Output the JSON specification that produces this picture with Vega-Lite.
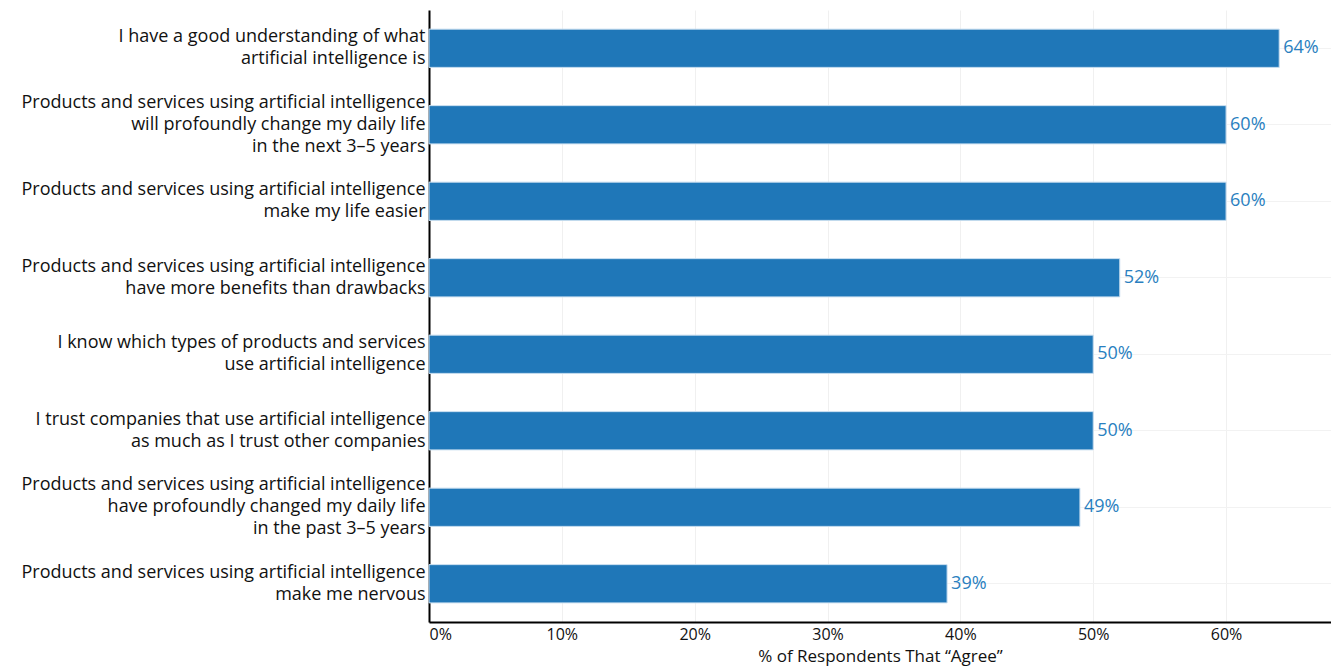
{
  "$schema": "https://vega.github.io/schema/vega-lite/v6.json",
  "autosize": "none",
  "width": 902,
  "height": 612,
  "padding": {"left": 429, "top": 10, "right": 0, "bottom": 48},
  "background": "white",
  "data": {"values": [
    {"statement": "I have a good understanding of what|artificial intelligence is", "agree": 0.64},
    {"statement": "Products and services using artificial intelligence|will profoundly change my daily life|in the next 3–5 years", "agree": 0.60},
    {"statement": "Products and services using artificial intelligence|make my life easier", "agree": 0.60},
    {"statement": "Products and services using artificial intelligence|have more benefits than drawbacks", "agree": 0.52},
    {"statement": "I know which types of products and services|use artificial intelligence", "agree": 0.50},
    {"statement": "I trust companies that use artificial intelligence|as much as I trust other companies", "agree": 0.50},
    {"statement": "Products and services using artificial intelligence|have profoundly changed my daily life|in the past 3–5 years", "agree": 0.49},
    {"statement": "Products and services using artificial intelligence|make me nervous", "agree": 0.39}
  ]},
  "config": {
    "font": "Open Sans",
    "view": {"stroke": null}
  },
  "encoding": {
    "y": {
      "field": "statement", "type": "nominal", "sort": null,
      "scale": {"paddingInner": 0.5, "paddingOuter": 0.25},
      "axis": {
        "title": null, "ticks": false, "domainColor": "#000000", "domainWidth": 2,
        "labelExpr": "split(datum.label, '|')", "labelFontSize": 18, "labelLineHeight": 22,
        "labelBaseline": "middle",
        "labelOffset": {"condition": {"test": "length(split(datum.value, '|')) == 3", "value": -22}, "value": -11},
        "labelColor": "#111111", "labelPadding": 4, "labelLimit": 500,
        "grid": true, "gridColor": "#f2f2f2", "gridWidth": 1
      }
    },
    "x": {
      "field": "agree", "type": "quantitative",
      "scale": {"domain": [0, 0.679], "nice": false},
      "axis": {
        "title": "% of Respondents That “Agree”", "titleFontSize": 17, "titleFontWeight": "normal",
        "titleColor": "#111111", "titlePadding": 6,
        "values": [0, 0.1, 0.2, 0.3, 0.4, 0.5, 0.6], "format": ".0%",
        "labelFontSize": 16, "labelColor": "#111111", "labelPadding": 4, "ticks": false,
        "domainColor": "#000000", "domainWidth": 2,
        "grid": true, "gridColor": "#f0f0f0", "gridWidth": 1
      }
    }
  },
  "layer": [
    {"mark": {"type": "bar", "color": "#1f77b8", "stroke": "#c9def0", "strokeWidth": 1}},
    {"mark": {"type": "text", "align": "left", "baseline": "middle", "dx": 4, "fontSize": 18, "color": "#2a7fc0"},
     "encoding": {"text": {"field": "agree", "type": "quantitative", "format": ".0%"}}}
  ]
}
